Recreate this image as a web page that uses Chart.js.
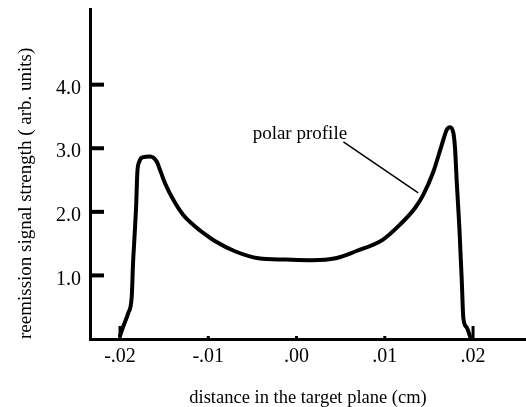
<!DOCTYPE html>
<html>
<head>
<meta charset="utf-8">
<title>Polar profile</title>
<script src="https://cdn.jsdelivr.net/npm/chart.js@4.4.1/dist/chart.umd.min.js"></script>
<style>
  html, body { margin: 0; padding: 0; background: #fff; }
  #chart { display: block; }
</style>
</head>
<body>
<canvas id="chart" width="526" height="407"></canvas>
<script>
// --- Data ---
// distance in the target plane (cm)
const distance = [
  -0.02000, -0.01963, -0.01906, -0.01867, -0.01852, -0.01840, -0.01828, -0.01817,
  -0.01804, -0.01781, -0.01736, -0.01660, -0.01584, -0.01547, -0.01490, -0.01396,
  -0.01283, -0.01131, -0.00999, -0.00926, -0.00698, -0.00432, -0.00128, 0.00176,
  0.00443, 0.00671, 0.00976, 0.01173, 0.01343, 0.01437, 0.01550, 0.01645,
  0.01702, 0.01739, 0.01777, 0.01796, 0.01815, 0.01845, 0.01872, 0.01890,
  0.01929, 0.01966
];
// reemission signal strength (arb. units)
const signal = [
  0.05, 0.20, 0.41, 0.67, 1.20, 1.50, 1.80, 2.10,
  2.61, 2.79, 2.86, 2.87, 2.79, 2.66, 2.45, 2.19,
  1.95, 1.75, 1.61, 1.54, 1.38, 1.27, 1.25, 1.24,
  1.27, 1.38, 1.56, 1.80, 2.06, 2.27, 2.63, 3.05,
  3.29, 3.33, 3.24, 3.00, 2.48, 1.75, 0.93, 0.33,
  0.18, 0.04
];
const xTicks = [-0.02, -0.01, 0, 0.01, 0.02];
const yTicks = [1, 2, 3, 4];
const curveName = "polar profile";
const xTitle = "distance in the target plane (cm)";
const yTitle = "reemission signal strength ( arb. units)";

const SERIF = "'Liberation Serif', 'Times New Roman', serif";

// ".02" style labels, no leading zero
function fmtX(v) {
  const s = Math.abs(v).toFixed(2).replace(/^0/, "");
  return (v < -1e-9 ? "-" : "") + s;
}

// Tick marks drawn inward from the axes (heavy on y, small nubs on x)
const innerTicks = {
  id: "innerTicks",
  afterDraw(chart) {
    const { ctx, chartArea, scales } = chart;
    ctx.save();
    ctx.strokeStyle = "#000";
    ctx.lineWidth = 4;
    scales.y.ticks.forEach(t => {
      const py = scales.y.getPixelForValue(t.value);
      ctx.beginPath();
      ctx.moveTo(chartArea.left, py);
      ctx.lineTo(chartArea.left + 14, py);
      ctx.stroke();
    });
    ctx.lineWidth = 3;
    scales.x.ticks.forEach(t => {
      const px = scales.x.getPixelForValue(t.value);
      const len = Math.abs(t.value) > 0.015 ? 13 : 3;
      ctx.beginPath();
      ctx.moveTo(px, chartArea.bottom);
      ctx.lineTo(px, chartArea.bottom - len);
      ctx.stroke();
    });
    ctx.restore();
  }
};

// "polar profile" label with its leader line
const curveLabel = {
  id: "curveLabel",
  afterDatasetsDraw(chart, args, opts) {
    const { ctx, scales: { x, y } } = chart;
    ctx.save();
    ctx.fillStyle = "#000";
    ctx.font = "19px " + SERIF;
    ctx.textAlign = "left";
    ctx.textBaseline = "alphabetic";
    ctx.fillText(opts.text, x.getPixelForValue(opts.at[0]), y.getPixelForValue(opts.at[1]));
    ctx.strokeStyle = "#000";
    ctx.lineWidth = 1.5;
    ctx.beginPath();
    ctx.moveTo(x.getPixelForValue(opts.from[0]), y.getPixelForValue(opts.from[1]));
    ctx.lineTo(x.getPixelForValue(opts.to[0]), y.getPixelForValue(opts.to[1]));
    ctx.stroke();
    ctx.restore();
  }
};

new Chart(document.getElementById("chart"), {
  type: "line",
  data: {
    datasets: [{
      label: curveName,
      data: distance.map((d, i) => ({ x: d, y: signal[i] })),
      borderColor: "#000",
      borderWidth: 4,
      pointRadius: 0,
      fill: false,
      cubicInterpolationMode: "monotone",
      borderJoinStyle: "round",
      borderCapStyle: "round"
    }]
  },
  options: {
    responsive: false,
    animation: false,
    events: [],
    layout: { padding: { top: 9, right: 0, bottom: 0, left: 0 } },
    plugins: {
      legend: { display: false },
      tooltip: { enabled: false },
      curveLabel: {
        text: curveName,
        at: [-0.00497, 3.15],
        from: [0.00531, 3.10],
        to: [0.01379, 2.30]
      }
    },
    scales: {
      x: {
        type: "linear",
        min: -0.0234,
        max: 0.026,
        afterBuildTicks: s => { s.ticks = xTicks.map(v => ({ value: v })); },
        afterFit: s => { s.height = 68; s.paddingLeft = 0; s.paddingRight = 0; },
        grid: { display: false, drawTicks: false },
        border: { display: true, color: "#000", width: 3 },
        ticks: {
          callback: fmtX,
          color: "#000",
          font: { family: SERIF, size: 20 },
          padding: 6,
          maxRotation: 0,
          autoSkip: false
        },
        title: {
          display: true,
          text: xTitle,
          color: "#000",
          font: { family: SERIF, size: 18.5, lineHeight: 1 },
          padding: { top: 0, bottom: 0 }
        }
      },
      y: {
        min: 0,
        max: 5.19,
        afterBuildTicks: s => { s.ticks = yTicks.map(v => ({ value: v })); },
        afterFit: s => { s.width = 90; s.paddingTop = 0; s.paddingBottom = 0; },
        grid: { display: false, drawTicks: false },
        border: { display: true, color: "#000", width: 3 },
        ticks: {
          callback: v => v.toFixed(1),
          color: "#000",
          font: { family: SERIF, size: 20 },
          padding: 9,
          labelOffset: 4
        },
        title: {
          display: true,
          text: yTitle,
          align: "start",
          color: "#000",
          font: { family: SERIF, size: 19, lineHeight: 1 },
          padding: { top: 17, bottom: 0 }
        }
      }
    }
  },
  plugins: [innerTicks, curveLabel]
});
</script>
</body>
</html>
